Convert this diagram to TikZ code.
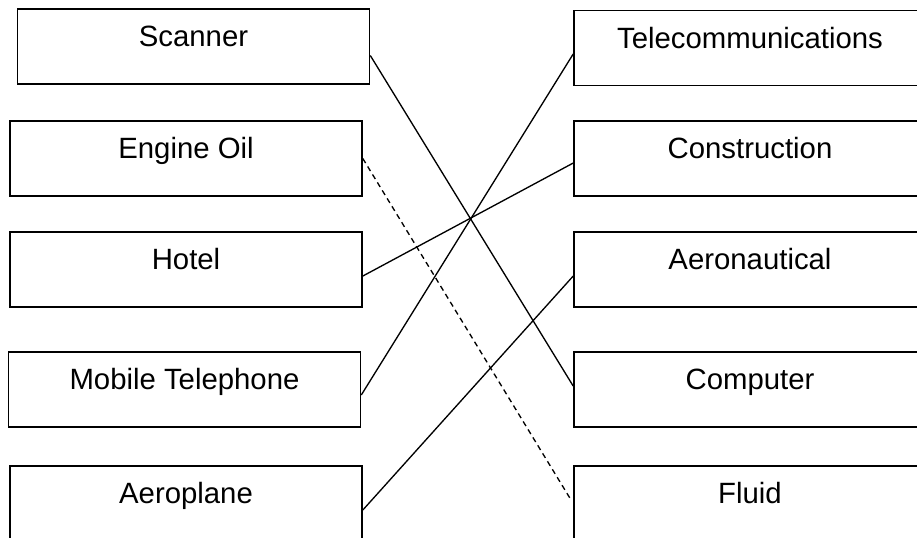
\documentclass[tikz,border=0pt]{standalone}
\usepackage{fontspec}
\setmainfont{Liberation Sans}
\usepackage{tikz}

\tikzset{
  itembox/.style={draw, line width=1.2pt, minimum width=264pt, inner sep=0pt,
    text height=28pt, text depth=28pt, font=\fontsize{22}{26}\selectfont},
  matchline/.style={line width=1pt},
}

\begin{document}
\begin{tikzpicture}[x=0.75pt,y=0.75pt,yscale=-1,xscale=1]
\useasboundingbox (0,0) rectangle (917,537);

% left column
\node[itembox] (scanner) at (193.5,46.5) {Scanner};
\node[itembox] (engine) at (186,158.5) {Engine Oil};
\node[itembox] (hotel) at (186,269.5) {Hotel};
\node[itembox] (mobile) at (184.5,389.5) {Mobile Telephone};
\node[itembox] (plane) at (186,503.5) {Aeroplane};

% right column
\node[itembox] (telecom) at (750,48) {Telecommunications};
\node[itembox] (construct) at (750,158.5) {Construction};
\node[itembox] (aero) at (750,269.5) {Aeronautical};
\node[itembox] (computer) at (750,389.5) {Computer};
\node[itembox] (fluid) at (750,503.5) {Fluid};

% matches
\draw[matchline] ([yshift=6.75pt]scanner.east) -- ([yshift=-2.6pt]computer.west);
\draw[matchline, dash pattern=on 4pt off 3pt, shorten >=5pt] (engine.east) -- (fluid.west);
\draw[matchline] ([yshift=4.9pt]hotel.east) -- ([yshift=3.4pt]construct.west);
\draw[matchline] ([yshift=4.1pt]mobile.east) -- ([yshift=4.5pt]telecom.west);
\draw[matchline] ([yshift=4.9pt]plane.east) -- ([yshift=4.9pt]aero.west);

\end{tikzpicture}
\end{document}
